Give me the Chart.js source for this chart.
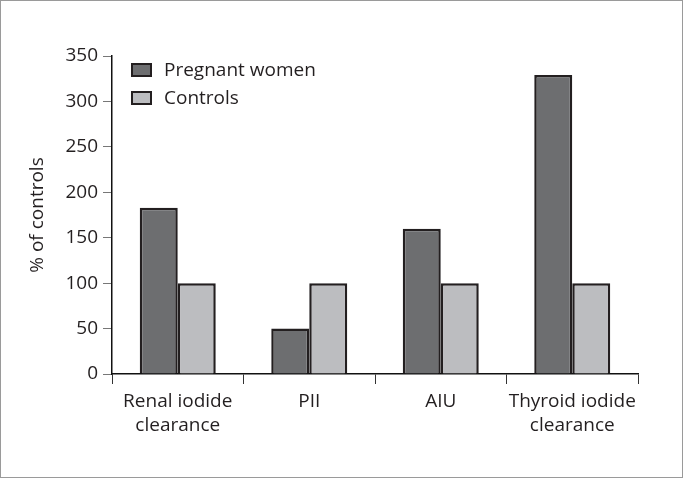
<!DOCTYPE html>
<html>
<head>
<meta charset="utf-8">
<script src="https://cdn.jsdelivr.net/npm/chart.js@4"></script>
<style>
  body { margin: 0; background: #fff; }
  canvas { display: block; }
</style>
</head>
<body>
<canvas id="my_chart" width="683" height="478"></canvas>
<script>
const categories = [
  ['Renal iodide', 'clearance'],
  'PII',
  'AIU',
  ['Thyroid iodide', 'clearance']
];
const pregnant_values = [183, 50, 160, 329];
const control_values = [100, 100, 100, 100];
const series_labels = ['Pregnant women', 'Controls'];
const y_ticks = [0, 50, 100, 150, 200, 250, 300, 350];

const FONT = '"Open Sans", "Noto Sans", sans-serif';
const FSIZE = 19;
const TEXT = '#231f20';

// white page + thin grey frame around the figure
const framePlugin = {
  id: 'frame',
  beforeDraw(chart) {
    const c = chart.ctx;
    c.save();
    c.fillStyle = '#fff';
    c.fillRect(0, 0, chart.width, chart.height);
    c.strokeStyle = '#9a9a9a';
    c.lineWidth = 1;
    c.strokeRect(0.5, 0.5, chart.width - 1, chart.height - 1);
    c.restore();
  }
};

// legend drawn inside the plot, top left, stacked
const insideLegend = {
  id: 'insideLegend',
  afterDraw(chart) {
    const c = chart.ctx;
    const area = chart.chartArea;
    c.save();
    c.font = FSIZE + 'px ' + FONT;
    c.textBaseline = 'middle';
    chart.data.datasets.forEach((ds, i) => {
      const x = area.left + 19;
      const y = area.top + 7 + i * 28;
      c.fillStyle = ds.backgroundColor;
      c.fillRect(x, y, 21, 14);
      c.strokeStyle = ds.borderColor;
      c.lineWidth = 2;
      c.strokeRect(x + 1, y + 1, 19, 12);
      c.fillStyle = TEXT;
      c.fillText(ds.label, x + 33, y + 8);
    });
    c.restore();
  }
};

ctx = document.getElementById('my_chart').getContext('2d');
my_chart = new Chart(ctx, {
  type: 'bar',
  data: {
    labels: categories,
    datasets: [
      {
        label: series_labels[0],
        data: pregnant_values,
        backgroundColor: '#6d6e70',
        borderColor: '#231f20',
        borderWidth: 2.5,
      },
      {
        label: series_labels[1],
        data: control_values,
        backgroundColor: '#bcbdc0',
        borderColor: '#231f20',
        borderWidth: 2.5,
      }
    ]
  },
  options: {
    responsive: false,
    animation: false,
    layout: { padding: { left: 0, right: 45, top: 56, bottom: 0 } },
    datasets: { bar: { categoryPercentage: 0.578, barPercentage: 1.0 } },
    plugins: {
      legend: { display: false },
      tooltip: { enabled: false }
    },
    scales: {
      x: {
        offset: true,
        grid: {
          offset: true,
          drawOnChartArea: false,
          drawTicks: true,
          tickLength: 10,
          color: '#333'
        },
        border: { color: '#111', width: 1.5 },
        ticks: {
          color: TEXT,
          padding: 6,
          autoSkip: false,
          maxRotation: 0,
          minRotation: 0,
          font: { family: FONT, size: FSIZE, lineHeight: 1.25 }
        },
        afterFit(scale) { scale.height = 104; }
      },
      y: {
        min: 0,
        max: 350,
        afterBuildTicks(scale) { scale.ticks = y_ticks.map(v => ({ value: v })); },
        grid: {
          drawOnChartArea: false,
          drawTicks: true,
          tickLength: 9,
          color: '#777'
        },
        border: { color: '#111', width: 1.5 },
        ticks: {
          color: TEXT,
          padding: 5,
          font: { family: FONT, size: FSIZE }
        },
        title: {
          display: true,
          text: '% of controls',
          color: TEXT,
          padding: { top: 26, bottom: 0 },
          font: { family: FONT, size: FSIZE }
        },
        afterFit(scale) { scale.width = 112; }
      }
    }
  },
  plugins: [framePlugin, insideLegend]
});
</script>
</body>
</html>
